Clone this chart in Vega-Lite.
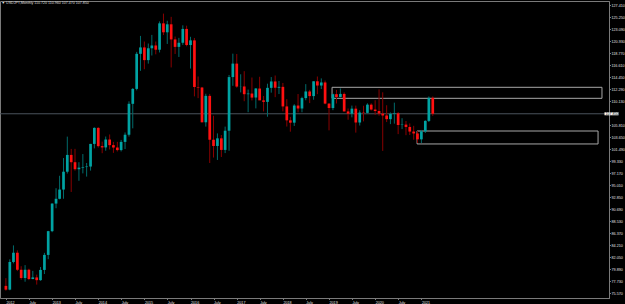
{
  "$schema": "https://vega.github.io/schema/vega-lite/v6.json",
  "width": 609,
  "height": 297,
  "autosize": {"type": "none"},
  "padding": {"left": 0, "top": 1, "right": 16, "bottom": 6},
  "background": "#000000",
  "config": {
    "view": {"stroke": "#7a7a7a", "strokeWidth": 1},
    "font": "Liberation Sans",
    "axis": {"grid": false, "labelFont": "Liberation Sans", "labelFontSize": 3.7, "labelColor": "#e0e0e0", "domainColor": "#7a7a7a", "tickColor": "#7a7a7a", "tickSize": 1.5, "labelPadding": 0.5, "title": null, "labelOverlap": false, "labelFlush": false, "labelBound": false},
    "axisX": {"labelOverlap": false},
    "axisY": {"labelOverlap": false}
  },
  "title": {"text": "▼ USDJPY,Monthly  110.720 110.960 107.470 107.850", "anchor": "start", "orient": "top", "offset": -4, "fontSize": 3.6, "fontWeight": "normal", "color": "#dddddd", "font": "Liberation Sans", "dx": 2},
  "datasets": {
    "bars": [
      {"d":"2012-01-01","o":76.90,"h":78.29,"l":76.03,"c":76.22},
      {"d":"2012-02-01","o":76.23,"h":81.67,"l":76.11,"c":81.20},
      {"d":"2012-03-01","o":81.20,"h":84.18,"l":80.95,"c":82.86},
      {"d":"2012-04-01","o":82.86,"h":83.29,"l":79.56,"c":79.80},
      {"d":"2012-05-01","o":79.80,"h":80.43,"l":78.01,"c":78.32},
      {"d":"2012-06-01","o":78.32,"h":80.63,"l":77.65,"c":79.80},
      {"d":"2012-07-01","o":79.80,"h":79.98,"l":77.93,"c":78.13},
      {"d":"2012-08-01","o":78.13,"h":79.60,"l":78.10,"c":78.42},
      {"d":"2012-09-01","o":78.42,"h":78.92,"l":77.13,"c":77.93},
      {"d":"2012-10-01","o":77.93,"h":80.29,"l":77.82,"c":79.77},
      {"d":"2012-11-01","o":79.77,"h":82.84,"l":79.03,"c":82.47},
      {"d":"2012-12-01","o":82.47,"h":86.80,"l":81.70,"c":86.74},
      {"d":"2013-01-01","o":86.74,"h":91.75,"l":86.55,"c":91.70},
      {"d":"2013-02-01","o":91.70,"h":94.46,"l":90.86,"c":92.56},
      {"d":"2013-03-01","o":92.56,"h":96.70,"l":92.46,"c":94.22},
      {"d":"2013-04-01","o":94.22,"h":99.89,"l":92.57,"c":97.43},
      {"d":"2013-05-01","o":97.43,"h":103.74,"l":97.10,"c":100.45},
      {"d":"2013-06-01","o":100.45,"h":101.53,"l":93.79,"c":99.14},
      {"d":"2013-07-01","o":99.14,"h":101.54,"l":97.62,"c":97.88},
      {"d":"2013-08-01","o":97.88,"h":99.14,"l":95.80,"c":98.16},
      {"d":"2013-09-01","o":98.16,"h":100.61,"l":97.13,"c":98.27},
      {"d":"2013-10-01","o":98.27,"h":99.00,"l":96.55,"c":98.36},
      {"d":"2013-11-01","o":98.36,"h":102.44,"l":97.63,"c":102.43},
      {"d":"2013-12-01","o":102.43,"h":105.41,"l":101.62,"c":105.31},
      {"d":"2014-01-01","o":105.31,"h":105.44,"l":101.77,"c":102.03},
      {"d":"2014-02-01","o":102.03,"h":102.84,"l":100.76,"c":101.80},
      {"d":"2014-03-01","o":101.80,"h":103.76,"l":101.20,"c":103.22},
      {"d":"2014-04-01","o":103.22,"h":104.13,"l":101.43,"c":102.21},
      {"d":"2014-05-01","o":102.21,"h":102.80,"l":100.82,"c":101.78},
      {"d":"2014-06-01","o":101.78,"h":102.80,"l":101.07,"c":101.32},
      {"d":"2014-07-01","o":101.32,"h":103.15,"l":101.07,"c":102.79},
      {"d":"2014-08-01","o":102.79,"h":104.49,"l":101.51,"c":104.08},
      {"d":"2014-09-01","o":104.08,"h":110.09,"l":103.75,"c":109.64},
      {"d":"2014-10-01","o":109.64,"h":112.47,"l":105.23,"c":112.32},
      {"d":"2014-11-01","o":112.32,"h":118.98,"l":112.06,"c":118.63},
      {"d":"2014-12-01","o":118.63,"h":121.85,"l":115.57,"c":119.78},
      {"d":"2015-01-01","o":119.78,"h":120.84,"l":115.86,"c":117.50},
      {"d":"2015-02-01","o":117.50,"h":120.48,"l":116.87,"c":119.63},
      {"d":"2015-03-01","o":119.63,"h":122.03,"l":118.33,"c":120.13},
      {"d":"2015-04-01","o":120.13,"h":120.84,"l":118.54,"c":119.37},
      {"d":"2015-05-01","o":119.37,"h":124.46,"l":118.88,"c":124.11},
      {"d":"2015-06-01","o":124.11,"h":125.86,"l":122.01,"c":122.50},
      {"d":"2015-07-01","o":122.50,"h":124.58,"l":120.41,"c":123.94},
      {"d":"2015-08-01","o":123.94,"h":125.28,"l":116.18,"c":121.22},
      {"d":"2015-09-01","o":121.22,"h":121.74,"l":118.60,"c":119.88},
      {"d":"2015-10-01","o":119.88,"h":121.50,"l":118.07,"c":120.62},
      {"d":"2015-11-01","o":120.62,"h":123.76,"l":120.24,"c":123.11},
      {"d":"2015-12-01","o":123.11,"h":123.69,"l":119.98,"c":120.21},
      {"d":"2016-01-01","o":120.21,"h":121.69,"l":115.98,"c":121.05},
      {"d":"2016-02-01","o":121.05,"h":121.48,"l":110.98,"c":112.67},
      {"d":"2016-03-01","o":112.67,"h":114.55,"l":110.66,"c":112.57},
      {"d":"2016-04-01","o":112.57,"h":112.68,"l":106.28,"c":106.32},
      {"d":"2016-05-01","o":106.32,"h":111.45,"l":105.54,"c":111.07},
      {"d":"2016-06-01","o":111.07,"h":111.42,"l":99.00,"c":103.18},
      {"d":"2016-07-01","o":103.18,"h":107.49,"l":99.98,"c":102.06},
      {"d":"2016-08-01","o":102.06,"h":104.32,"l":99.54,"c":103.43},
      {"d":"2016-09-01","o":103.43,"h":104.03,"l":100.08,"c":101.35},
      {"d":"2016-10-01","o":101.35,"h":105.54,"l":100.78,"c":104.80},
      {"d":"2016-11-01","o":104.80,"h":114.83,"l":101.19,"c":114.45},
      {"d":"2016-12-01","o":114.45,"h":118.66,"l":112.88,"c":116.87},
      {"d":"2017-01-01","o":116.87,"h":118.60,"l":112.53,"c":112.74},
      {"d":"2017-02-01","o":112.74,"h":114.95,"l":111.69,"c":112.76},
      {"d":"2017-03-01","o":112.76,"h":115.51,"l":110.11,"c":111.37},
      {"d":"2017-04-01","o":111.37,"h":112.20,"l":108.13,"c":111.49},
      {"d":"2017-05-01","o":111.49,"h":114.37,"l":110.24,"c":110.76},
      {"d":"2017-06-01","o":110.76,"h":112.47,"l":108.82,"c":112.39},
      {"d":"2017-07-01","o":112.39,"h":114.50,"l":110.62,"c":110.26},
      {"d":"2017-08-01","o":110.26,"h":111.05,"l":108.27,"c":109.99},
      {"d":"2017-09-01","o":109.99,"h":113.26,"l":107.32,"c":112.51},
      {"d":"2017-10-01","o":112.51,"h":114.45,"l":111.65,"c":113.66},
      {"d":"2017-11-01","o":113.66,"h":114.73,"l":110.84,"c":112.53},
      {"d":"2017-12-01","o":112.53,"h":113.75,"l":111.40,"c":112.69},
      {"d":"2018-01-01","o":112.69,"h":113.39,"l":108.28,"c":109.17},
      {"d":"2018-02-01","o":109.17,"h":110.48,"l":105.55,"c":106.67},
      {"d":"2018-03-01","o":106.67,"h":107.29,"l":104.63,"c":106.25},
      {"d":"2018-04-01","o":106.25,"h":109.57,"l":105.66,"c":109.33},
      {"d":"2018-05-01","o":109.33,"h":111.40,"l":108.11,"c":108.80},
      {"d":"2018-06-01","o":108.80,"h":110.91,"l":108.12,"c":110.67},
      {"d":"2018-07-01","o":110.67,"h":113.18,"l":110.28,"c":111.86},
      {"d":"2018-08-01","o":111.86,"h":112.15,"l":109.77,"c":111.03},
      {"d":"2018-09-01","o":111.03,"h":113.70,"l":110.38,"c":113.69},
      {"d":"2018-10-01","o":113.69,"h":114.55,"l":111.38,"c":112.93},
      {"d":"2018-11-01","o":112.93,"h":114.21,"l":112.30,"c":113.48},
      {"d":"2018-12-01","o":113.48,"h":113.83,"l":109.56,"c":109.68},
      {"d":"2019-01-01","o":109.68,"h":109.73,"l":104.87,"c":108.88},
      {"d":"2019-02-01","o":108.88,"h":111.49,"l":108.50,"c":111.37},
      {"d":"2019-03-01","o":111.37,"h":112.14,"l":109.70,"c":110.86},
      {"d":"2019-04-01","o":110.86,"h":112.40,"l":110.80,"c":111.42},
      {"d":"2019-05-01","o":111.42,"h":111.69,"l":108.28,"c":108.27},
      {"d":"2019-06-01","o":108.27,"h":108.80,"l":106.78,"c":107.86},
      {"d":"2019-07-01","o":107.86,"h":109.32,"l":107.21,"c":108.77},
      {"d":"2019-08-01","o":108.77,"h":109.32,"l":104.46,"c":106.28},
      {"d":"2019-09-01","o":106.28,"h":108.48,"l":105.74,"c":108.07},
      {"d":"2019-10-01","o":108.07,"h":109.29,"l":106.48,"c":108.01},
      {"d":"2019-11-01","o":108.01,"h":109.73,"l":107.89,"c":109.49},
      {"d":"2019-12-01","o":109.49,"h":109.73,"l":108.43,"c":108.61},
      {"d":"2020-01-01","o":108.61,"h":110.29,"l":107.65,"c":108.35},
      {"d":"2020-02-01","o":108.35,"h":112.23,"l":107.51,"c":107.89},
      {"d":"2020-03-01","o":107.89,"h":111.71,"l":101.18,"c":107.54},
      {"d":"2020-04-01","o":107.54,"h":109.38,"l":106.36,"c":106.88},
      {"d":"2020-05-01","o":106.88,"h":108.08,"l":105.99,"c":107.83},
      {"d":"2020-06-01","o":107.83,"h":109.85,"l":106.07,"c":107.93},
      {"d":"2020-07-01","o":107.93,"h":108.16,"l":104.19,"c":105.83},
      {"d":"2020-08-01","o":105.83,"h":107.05,"l":105.10,"c":105.90},
      {"d":"2020-09-01","o":105.90,"h":106.55,"l":104.00,"c":105.48},
      {"d":"2020-10-01","o":105.48,"h":106.11,"l":104.03,"c":104.65},
      {"d":"2020-11-01","o":104.65,"h":105.68,"l":103.18,"c":104.31},
      {"d":"2020-12-01","o":104.31,"h":104.75,"l":102.59,"c":103.25},
      {"d":"2021-01-01","o":103.25,"h":104.94,"l":102.59,"c":104.68},
      {"d":"2021-02-01","o":104.68,"h":106.68,"l":104.40,"c":106.57},
      {"d":"2021-03-01","o":106.57,"h":110.97,"l":106.37,"c":110.72},
      {"d":"2021-04-01","o":110.72,"h":110.96,"l":107.47,"c":107.85}
    ],
    "boxes": [
      {"start":"2019-01-25","end":"2024-11-30","top":112.61,"bottom":110.63},
      {"start":"2020-11-28","end":"2024-10-30","top":104.75,"bottom":102.42}
    ],
    "bid": [{"price": 107.85, "label": "107.850"}]
  },
  "encoding": {
    "x": {"type": "temporal", "scale": {"type": "utc", "nice": false, "domain": [{"year":2011,"month":12,"date":25,"utc":true},{"year":2024,"month":12,"date":16,"utc":true}]},
      "axis": {"orient": "bottom", "format": "%-d %b %Y", "formatType": "utc", "labelAlign": "left", "labelBaseline": "top", "labelOverlap": false, "labelSeparation": 0,
        "values": [
          {"year":2012,"month":1,"date":1,"utc":true},{"year":2012,"month":7,"date":1,"utc":true},
          {"year":2013,"month":1,"date":1,"utc":true},{"year":2013,"month":7,"date":1,"utc":true},
          {"year":2014,"month":1,"date":1,"utc":true},{"year":2014,"month":7,"date":1,"utc":true},
          {"year":2015,"month":1,"date":1,"utc":true},{"year":2015,"month":7,"date":1,"utc":true},
          {"year":2016,"month":1,"date":1,"utc":true},{"year":2016,"month":7,"date":1,"utc":true},
          {"year":2017,"month":1,"date":1,"utc":true},{"year":2017,"month":7,"date":1,"utc":true},
          {"year":2018,"month":1,"date":1,"utc":true},{"year":2018,"month":7,"date":1,"utc":true},
          {"year":2019,"month":1,"date":1,"utc":true},{"year":2019,"month":7,"date":1,"utc":true},
          {"year":2020,"month":1,"date":1,"utc":true},{"year":2020,"month":7,"date":1,"utc":true},
          {"year":2021,"month":1,"date":1,"utc":true}
        ]}},
    "y": {"type": "quantitative", "scale": {"domain": [74.72, 128.13], "zero": false, "nice": false},
      "axis": {"orient": "right", "format": ".3f", "labelAlign": "left", "labelBaseline": "middle", "labelOverlap": false, "labelSeparation": 0,
        "values": [127.41,125.25,123.09,120.93,118.77,116.61,114.45,112.29,110.13,105.81,103.65,101.49,99.33,97.17,95.01,92.85,90.69,88.53,86.37,84.21,82.05,79.89,77.73,75.57]}}
  },
  "layer": [
    {
      "data": {"name": "boxes"},
      "mark": {"type": "rect", "fillOpacity": 0, "stroke": "#a8a8a8", "strokeWidth": 1},
      "encoding": {
        "x": {"field": "start"},
        "x2": {"field": "end"},
        "y": {"field": "top"},
        "y2": {"field": "bottom"}
      }
    },
    {
      "data": {"name": "bid"},
      "mark": {"type": "rule", "color": "#4a535c", "strokeWidth": 1},
      "encoding": {
        "x": null,
        "y": {"field": "price"}
      }
    },
    {
      "data": {"name": "bars"},
      "mark": {"type": "rule", "strokeWidth": 1},
      "encoding": {
        "x": {"field": "d"},
        "y": {"field": "l"},
        "y2": {"field": "h"},
        "color": {"condition": {"test": "datum.c >= datum.o", "value": "#006b6b"}, "value": "#8a0000"}
      }
    },
    {
      "data": {"name": "bars"},
      "mark": {"type": "bar", "size": 2.7},
      "encoding": {
        "x": {"field": "d"},
        "y": {"field": "o"},
        "y2": {"field": "c"},
        "color": {"condition": {"test": "datum.c >= datum.o", "value": "#00a3a3"}, "value": "#ff1010"}
      }
    },
    {
      "data": {"name": "bid"},
      "mark": {"type": "rect", "color": "#ffffff", "clip": false, "height": 3},
      "encoding": {
        "x": {"datum": {"year":2024,"month":12,"date":20,"utc":true}},
        "x2": {"datum": {"year":2025,"month":4,"date":10,"utc":true}},
        "y": {"field": "price"}
      }
    },
    {
      "data": {"name": "bid"},
      "mark": {"type": "text", "clip": false, "align": "left", "baseline": "middle", "fontSize": 3.6, "color": "#000000", "dx": 1.5},
      "encoding": {
        "x": {"datum": {"year":2024,"month":12,"date":16,"utc":true}},
        "y": {"field": "price"},
        "text": {"field": "label"}
      }
    }
  ]
}
